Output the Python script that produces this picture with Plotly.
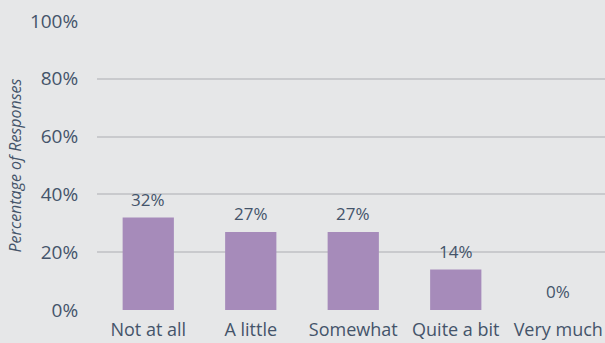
import plotly.graph_objects as go

# Survey responses
categories = ["Not at all", "A little", "Somewhat", "Quite a bit", "Very much"]
percentages = [32, 27, 27, 14, 0]
y_ticks = [0, 20, 40, 60, 80, 100]
y_tick_labels = [f"{v}%" for v in y_ticks]

BG = "#e6e7e8"
BAR = "#a68bba"
TEXT = "#44546a"
GRID = "#c9cacd"
FONT = "Open Sans"

fig = go.Figure()
fig.add_trace(go.Bar(
    x=list(range(len(categories))),
    y=percentages,
    width=0.5,
    marker=dict(color=BAR, line=dict(width=0)),
    hoverinfo="skip",
))

# Value labels above each bar
for i, v in enumerate(percentages):
    fig.add_annotation(
        x=i, y=v, text=f"{v}%", showarrow=False,
        yanchor="bottom", yshift=5,
        font=dict(family=FONT, size=17, color=TEXT),
    )

fig.update_layout(
    width=605, height=343,
    margin=dict(l=97, r=0, t=21, b=33),
    paper_bgcolor=BG, plot_bgcolor=BG,
    showlegend=False,
    font=dict(family=FONT, color=TEXT),
    xaxis=dict(
        range=[-0.5, 4.456],
        tickmode="array",
        tickvals=list(range(len(categories))),
        ticktext=categories,
        tickfont=dict(size=18, color=TEXT),
        showgrid=False, zeroline=False, showline=False,
        ticks="outside", ticklen=3, tickcolor="rgba(0,0,0,0)",
    ),
    yaxis=dict(
        range=[0, 100],
        tickmode="array",
        tickvals=y_ticks,
        ticktext=y_tick_labels,
        tickfont=dict(size=19, color=TEXT),
        showgrid=True, gridcolor=GRID, gridwidth=1.5,
        zeroline=False, showline=False,
        ticks="outside", ticklen=14, tickcolor="rgba(0,0,0,0)",
        title=dict(
            text="<i>Percentage of Responses</i>",
            font=dict(size=16, color=TEXT, family=FONT),
            standoff=4,
        ),
    ),
)

fig.write_html("out.html")
